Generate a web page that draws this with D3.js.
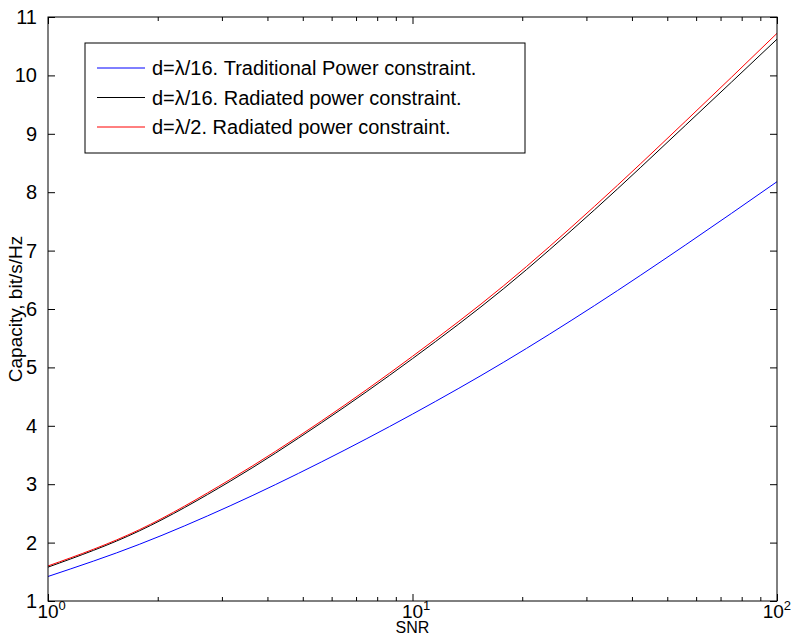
<!DOCTYPE html>
<html>
<head>
<meta charset="utf-8">
<script src="https://cdn.jsdelivr.net/npm/d3@7"></script>
<style>
  body { margin: 0; background: #fff; }
  text { font-family: "Liberation Sans", Arial, sans-serif; fill: #000; }
</style>
</head>
<body>
<div id="chart"></div>
<script>
const width = 793;
const height = 635;

// SNR sample points (quarter-decade steps)
const snr = [1, 1.78, 3.16, 5.62, 10, 17.8, 31.6, 56.2, 100];
const traditional16 = [1.42, 1.97, 2.63, 3.38, 4.2, 5.09, 6.06, 7.1, 8.18];
const radiated16 = [1.58, 2.2, 3.05, 4.05, 5.15, 6.35, 7.7, 9.15, 10.62];
const radiated2 = [1.6, 2.22, 3.08, 4.08, 5.19, 6.4, 7.76, 9.22, 10.72];

const yTicks = [1, 2, 3, 4, 5, 6, 7, 8, 9, 10, 11];
const xMajor = [1, 10, 100];
const legendLabels = [
  "d=\u03bb/16. Traditional Power constraint.",
  "d=\u03bb/16. Radiated power constraint.",
  "d=\u03bb/2. Radiated power constraint."
];
const colors = ["#0000ff", "#000000", "#ff0000"];

const margin = { top: 17, right: 16, bottom: 34, left: 48 };

const svg = d3
  .select("#chart")
  .append("svg")
  .attr("width", width)
  .attr("height", height);

const x = d3.scaleLog().domain([1, 100]).range([margin.left, width - margin.right]);
const y = d3.scaleLinear().domain([1, 11]).range([height - margin.bottom, margin.top]);

const x0 = margin.left, x1 = width - margin.right;
const y0 = height - margin.bottom, y1 = margin.top;

// minor log ticks
const xMinor = [];
[1, 10].forEach((d) => {
  for (let k = 2; k <= 9; k++) xMinor.push(d * k);
});

const g = svg.append("g");

// Series
const series = [traditional16, radiated16, radiated2];
const line = d3
  .line()
  .x((d, i) => x(snr[i]))
  .y((d) => y(d))
  .curve(d3.curveMonotoneX);

series.forEach((vals, i) => {
  g.append("path")
    .datum(vals)
    .attr("fill", "none")
    .attr("stroke", colors[i])
    .attr("stroke-width", 1)
    .attr("d", line);
});

// Axes: ticks point inward on all four sides
const axBottom = d3.axisBottom(x).tickValues(xMajor).tickSizeInner(-7).tickSizeOuter(0).tickFormat("");
const axBottomMinor = d3.axisBottom(x).tickValues(xMinor).tickSizeInner(-4).tickSizeOuter(0).tickFormat("");
const axTop = d3.axisTop(x).tickValues(xMajor).tickSizeInner(-7).tickSizeOuter(0).tickFormat("");
const axTopMinor = d3.axisTop(x).tickValues(xMinor).tickSizeInner(-4).tickSizeOuter(0).tickFormat("");
const axLeft = d3.axisLeft(y).tickValues(yTicks).tickSizeInner(-7).tickSizeOuter(0).tickPadding(11);
const axRight = d3.axisRight(y).tickValues(yTicks).tickSizeInner(-7).tickSizeOuter(0).tickFormat("");

const axes = [
  [axBottom, `translate(0,${y0})`],
  [axBottomMinor, `translate(0,${y0})`],
  [axTop, `translate(0,${y1})`],
  [axTopMinor, `translate(0,${y1})`],
  [axLeft, `translate(${x0},0)`],
  [axRight, `translate(${x1},0)`]
];
axes.forEach(([ax, tr]) => {
  const a = svg.append("g").attr("transform", tr).call(ax);
  a.select(".domain").remove();
  a.selectAll("line").attr("stroke", "#000").attr("stroke-width", 1);
  a.selectAll("text").attr("font-size", 20).attr("font-family", '"Liberation Sans", Arial, sans-serif');
});

// frame
svg.append("rect")
  .attr("x", x0)
  .attr("y", y1)
  .attr("width", x1 - x0)
  .attr("height", y0 - y1)
  .attr("fill", "none")
  .attr("stroke", "#000")
  .attr("stroke-width", 1);

// x tick labels 10^n: "10" centred on the tick, exponent to its right
xMajor.forEach((d, i) => {
  const t = svg.append("text")
    .attr("y", y0 + 17)
    .attr("font-size", 19);
  const base = t.append("tspan").text("10");
  t.append("tspan").attr("dy", -8).attr("font-size", 13).text(i);
  const baseW = base.node().getComputedTextLength();
  const fullW = t.node().getComputedTextLength();
  let sx = x(d) - baseW / 2;
  if (sx + fullW > width - 2) sx = width - 2 - fullW;
  t.attr("x", sx);
});

// axis titles
svg.append("text")
  .attr("x", (x0 + x1) / 2)
  .attr("y", height - 2)
  .attr("text-anchor", "middle")
  .attr("font-size", 16)
  .text("SNR");

svg.append("text")
  .attr("transform", `translate(22,${(y0 + y1) / 2}) rotate(-90)`)
  .attr("text-anchor", "middle")
  .attr("font-size", 19)
  .text("Capacity, bit/s/Hz");

// Legend
const lg = svg.append("g").attr("transform", "translate(85,43)");
lg.append("rect")
  .attr("width", 440)
  .attr("height", 110)
  .attr("fill", "#fff")
  .attr("stroke", "#000")
  .attr("stroke-width", 1);

legendLabels.forEach((lab, i) => {
  const yy = 25 + i * 29.5;
  lg.append("line")
    .attr("x1", 12)
    .attr("x2", 60)
    .attr("y1", yy)
    .attr("y2", yy)
    .attr("stroke", colors[i])
    .attr("stroke-width", 1);
  lg.append("text")
    .attr("x", 67)
    .attr("y", yy + 7)
    .attr("font-size", 20)
    .text(lab);
});
</script>
</body>
</html>
